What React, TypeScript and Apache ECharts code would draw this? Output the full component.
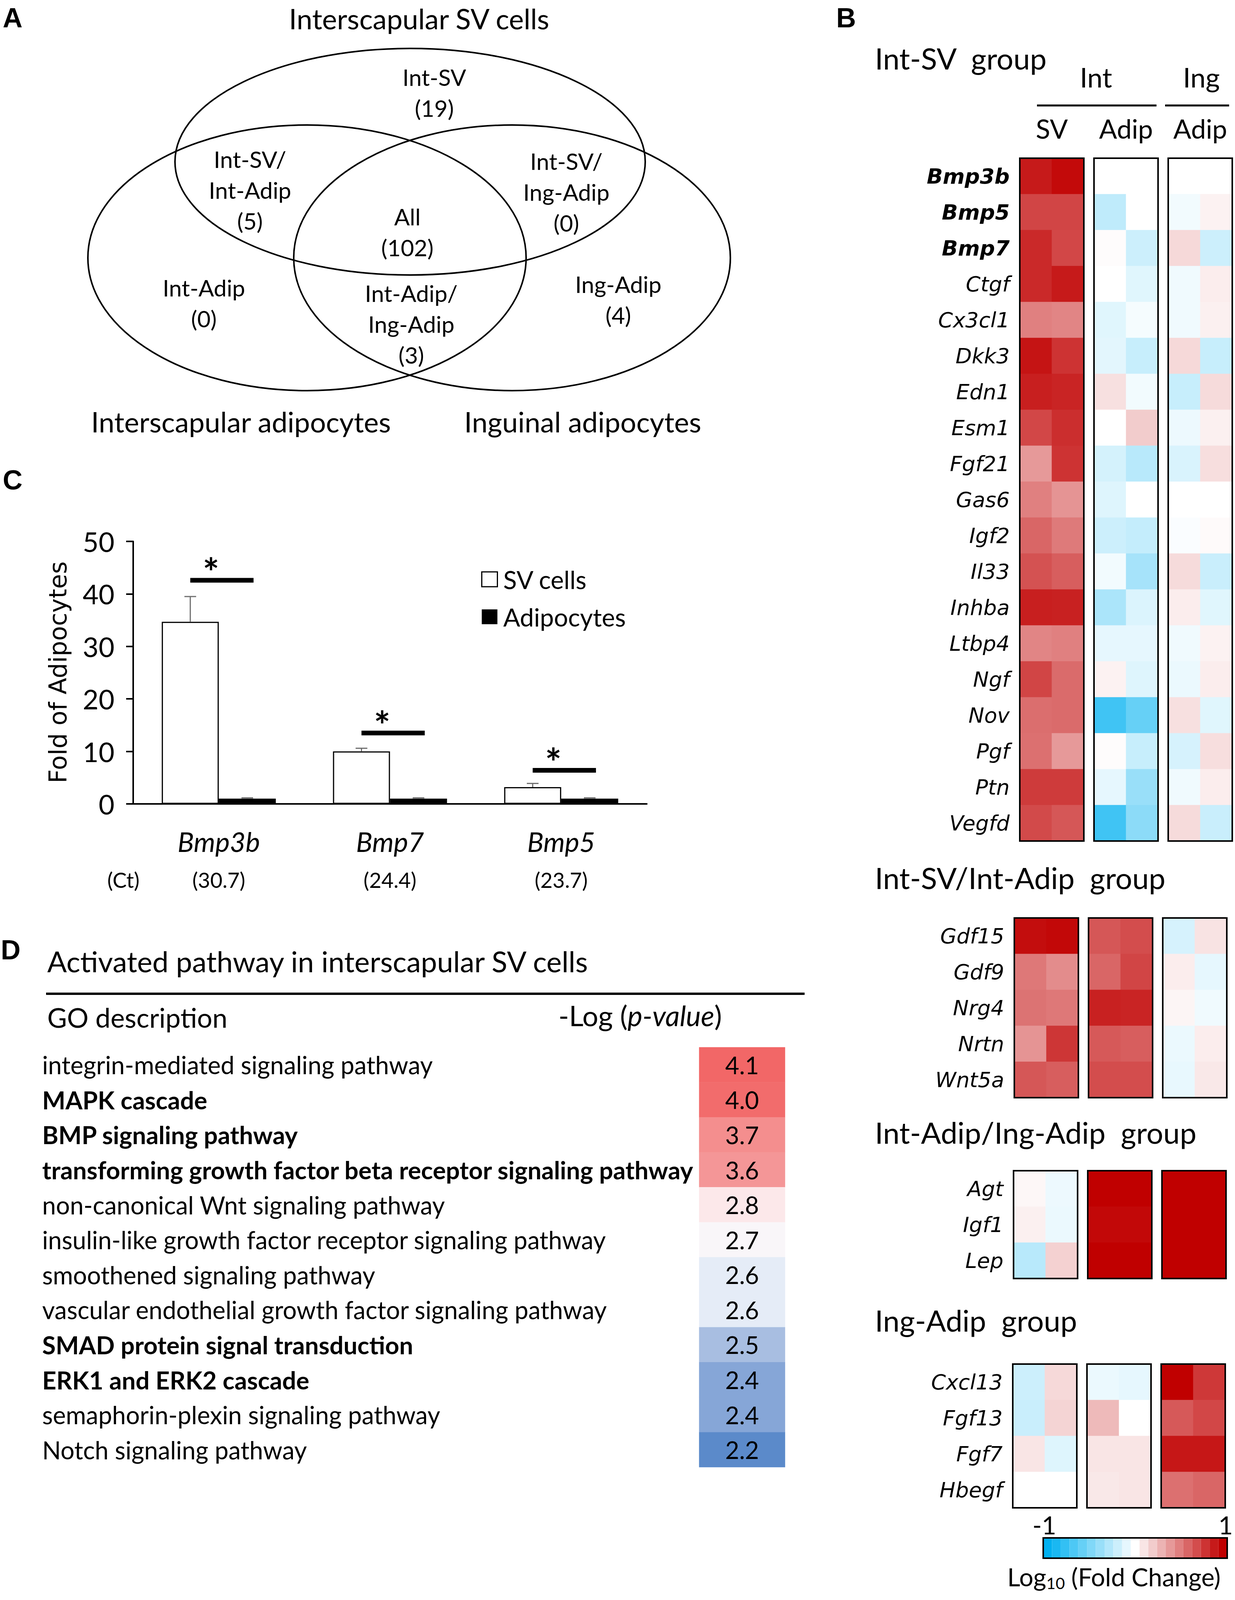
import React, { useEffect, useRef } from 'react';
import * as echarts from 'echarts';

const W = 3162;
const H = 4342;
const SANS = 'Lato, "Open Sans", "DejaVu Sans", sans-serif';
const GENE_FONT = '"DejaVu Sans", Verdana, sans-serif';
const LETTER_FONT = '"Liberation Sans", Arial, sans-serif';
const INK = '#000000';

// ---------------- Panel A: Venn diagram ----------------
const vennSetNames = ['Interscapular SV cells', 'Interscapular adipocytes', 'Inguinal adipocytes'];
const vennRegionNames = ['Int-SV', 'Int-SV/\nInt-Adip', 'All', 'Int-SV/\nIng-Adip', 'Int-Adip', 'Int-Adip/\nIng-Adip', 'Ing-Adip'];
const vennRegionCounts = [19, 5, 102, 0, 0, 3, 4];

// ---------------- Panel C: qPCR bars ----------------
const barGenes = ['Bmp3b', 'Bmp7', 'Bmp5'];
const ctValues = [30.7, 24.4, 23.7];
const seriesNames = ['SV cells', 'Adipocytes'];
const svMean = [34.7, 10.0, 3.2];
const svErr = [4.8, 0.6, 0.7];
const adipMean = [1.0, 1.0, 1.0];
const adipErr = [0.15, 0.15, 0.15];
const sigLevel = [42.6, 13.5, 6.4];

// ---------------- Panel B: heatmaps (log10 fold change) ----------------
// columns: Int-SV rep1, Int-SV rep2, Int-Adip rep1, Int-Adip rep2, Ing-Adip rep1, Ing-Adip rep2
const groupTitles = ['Int-SV  group', 'Int-SV/Int-Adip  group', 'Int-Adip/Ing-Adip  group', 'Ing-Adip  group'];
const boldGenes = ['Bmp3b', 'Bmp5', 'Bmp7'];

const intSvGenes = ['Bmp3b', 'Bmp5', 'Bmp7', 'Ctgf', 'Cx3cl1', 'Dkk3', 'Edn1', 'Esm1', 'Fgf21', 'Gas6', 'Igf2', 'Il33', 'Inhba', 'Ltbp4', 'Ngf', 'Nov', 'Pgf', 'Ptn', 'Vegfd'];
const intSvValues = [
  [0.90, 0.96, 0.00, 0.00, 0.00, 0.00],
  [0.73, 0.73, -0.25, 0.00, -0.05, 0.05],
  [0.84, 0.72, 0.01, -0.20, 0.15, -0.20],
  [0.84, 0.90, 0.00, -0.12, -0.06, 0.07],
  [0.50, 0.48, -0.12, -0.04, -0.06, 0.06],
  [0.92, 0.80, -0.11, -0.22, 0.15, -0.22],
  [0.88, 0.86, 0.12, -0.05, -0.22, 0.14],
  [0.72, 0.82, 0.00, 0.20, -0.07, 0.06],
  [0.40, 0.80, -0.17, -0.28, -0.15, 0.13],
  [0.50, 0.42, -0.13, 0.00, 0.00, 0.00],
  [0.60, 0.52, -0.20, -0.23, -0.02, 0.02],
  [0.68, 0.63, -0.05, -0.35, 0.14, -0.21],
  [0.88, 0.87, -0.33, -0.14, 0.07, -0.12],
  [0.48, 0.50, -0.10, -0.10, -0.06, 0.05],
  [0.73, 0.58, 0.05, -0.13, -0.08, 0.07],
  [0.57, 0.58, -0.75, -0.60, 0.12, -0.12],
  [0.56, 0.40, 0.01, -0.22, -0.16, 0.13],
  [0.77, 0.77, -0.10, -0.40, -0.06, 0.07],
  [0.71, 0.66, -0.75, -0.45, 0.14, -0.21],
];

const svAdipGenes = ['Gdf15', 'Gdf9', 'Nrg4', 'Nrtn', 'Wnt5a'];
const svAdipValues = [
  [0.95, 0.97, 0.66, 0.70, -0.16, 0.11],
  [0.53, 0.45, 0.60, 0.73, 0.07, -0.10],
  [0.55, 0.53, 0.87, 0.86, 0.04, -0.06],
  [0.42, 0.79, 0.65, 0.63, -0.08, 0.07],
  [0.66, 0.63, 0.70, 0.70, -0.09, 0.09],
];

const adipAdipGenes = ['Agt', 'Igf1', 'Lep'];
const adipAdipValues = [
  [0.03, -0.07, 1.00, 1.00, 1.00, 1.00],
  [0.06, -0.08, 0.97, 0.97, 1.00, 1.00],
  [-0.28, 0.18, 1.00, 1.00, 1.00, 1.00],
];

const ingAdipGenes = ['Cxcl13', 'Fgf13', 'Fgf7', 'Hbegf'];
const ingAdipValues = [
  [-0.20, 0.15, -0.08, -0.10, 1.00, 0.78],
  [-0.21, 0.17, 0.27, 0.00, 0.65, 0.72],
  [0.10, -0.13, 0.10, 0.10, 0.91, 0.91],
  [0.00, 0.00, 0.09, 0.10, 0.56, 0.60],
];

const groupGenes = [intSvGenes, svAdipGenes, adipAdipGenes, ingAdipGenes];
const groupValues = [intSvValues, svAdipValues, adipAdipValues, ingAdipValues];
const colorbarMin = -1;
const colorbarMax = 1;

// ---------------- Panel D: GO pathways ----------------
const pathways = [
  'integrin-mediated signaling pathway',
  'MAPK cascade',
  'BMP signaling pathway',
  'transforming growth factor beta receptor signaling pathway',
  'non-canonical Wnt signaling pathway',
  'insulin-like growth factor receptor signaling pathway',
  'smoothened signaling pathway',
  'vascular endothelial growth factor signaling pathway',
  'SMAD protein signal transduction',
  'ERK1 and ERK2 cascade',
  'semaphorin-plexin signaling pathway',
  'Notch signaling pathway',
];
const pathwayLogP = [4.1, 4.0, 3.7, 3.6, 2.8, 2.7, 2.6, 2.6, 2.5, 2.4, 2.4, 2.2];
const boldPathways = ['MAPK cascade', 'BMP signaling pathway', 'transforming growth factor beta receptor signaling pathway', 'SMAD protein signal transduction', 'ERK1 and ERK2 cascade'];

// ---------------- styles / layout ----------------
const heatColors = ['#00B0F0', '#FFFFFF', '#C00000'];
// colour stops for -log(p) from 2.2 to 4.1 (every 0.1)
const pathwayColors = [
  '#5B8ACA', '#7098D0', '#86A6D7', '#A8BEE1', '#E5ECF7', '#F9F6F9', '#FCE8EA', '#FAE0E1', '#F9D5D6', '#F8CBCC',
  '#F7C0C1', '#F6B5B6', '#F5AAAB', '#F5A0A1', '#F49697', '#F48E8E', '#F38282', '#F37777', '#F26C6C', '#F26767',
];

const VENN_ELLIPSES = [
  { cx: 1050, cy: 414, rx: 602, ry: 290 },
  { cx: 786, cy: 660, rx: 561, ry: 340 },
  { cx: 1311, cy: 660, rx: 559, ry: 340 },
];
const VENN_SET_XY = [[1073, 47], [617, 1079], [1492, 1079]];
const VENN_LABEL_XY = [[1112, 237], [640, 486], [1043, 594], [1450, 491], [522, 776], [1053, 829], [1583, 767]];

const C_GRID = { left: 341, top: 1386, width: 1315, height: 672 };
const BAR_W = 146;
const D_GRID = { left: 1790, top: 2681, width: 220, height: 1075 };
// lower groups are packed a little tighter so that the colour bar stays inside the photographed area
const B_LAYOUT = [
  { left: 2611, top: 405, titleY: 148 },
  { left: 2597, top: 2350, titleY: 2246 },
  { left: 2595, top: 2997, titleY: 2898 },
  { left: 2593, top: 3492, titleY: 3379 },
];
const B_BLOCK_W = 164;
const B_BLOCK_STEP = 190;
const B_ROW_H = 92;
const COLORBAR = { left: 2671, top: 3937, width: 471, height: 52, steps: 21, labelY: 3903, titleX: 2852, titleY: 4036 };

function T(text: string, x: number, y: number, size: number, o: any = {}) {
  const align = o.align || 'center';
  const valign = o.valign || 'middle';
  const style: any = {
    text,
    fontSize: size,
    fontFamily: o.family || SANS,
    fontWeight: o.weight || 'normal',
    fontStyle: o.fontStyle || 'normal',
    fill: o.fill || INK,
    align,
    verticalAlign: valign,
    textAlign: align,
    textVerticalAlign: valign,
  };
  if (o.lineHeight) style.lineHeight = o.lineHeight;
  if (o.rich) style.rich = o.rich;
  const el: any = { type: 'text', x, y, z: 50, style };
  if (o.rotation) el.rotation = o.rotation;
  return el;
}

function buildOption() {
  const grids: any[] = [];
  const xAxes: any[] = [];
  const yAxes: any[] = [];
  const series: any[] = [];
  const graphics: any[] = [];

  // ===== Panel letters =====
  graphics.push(T('A', 7, 46, 70, { align: 'left', family: LETTER_FONT, weight: 'bold' }));
  graphics.push(T('B', 2141, 46, 70, { align: 'left', family: LETTER_FONT, weight: 'bold' }));
  graphics.push(T('C', 7, 1229, 70, { align: 'left', family: LETTER_FONT, weight: 'bold' }));
  graphics.push(T('D', 2, 2432, 70, { align: 'left', family: LETTER_FONT, weight: 'bold' }));

  // ===== Panel A =====
  VENN_ELLIPSES.forEach((e) => {
    graphics.push({ type: 'ellipse', z: 20, shape: e, style: { fill: 'none', stroke: INK, lineWidth: 4 } });
  });
  vennSetNames.forEach((n, i) => graphics.push(T(n, VENN_SET_XY[i][0], VENN_SET_XY[i][1], 72)));
  vennRegionNames.forEach((n, i) => {
    graphics.push(T(`${n}\n(${vennRegionCounts[i]})`, VENN_LABEL_XY[i][0], VENN_LABEL_XY[i][1], 59, { lineHeight: 79 }));
  });

  // ===== Panel C =====
  grids.push({ left: C_GRID.left, top: C_GRID.top, width: C_GRID.width, height: C_GRID.height });
  xAxes.push({
    gridIndex: 0,
    type: 'category',
    data: barGenes,
    axisLine: { lineStyle: { color: INK, width: 4 } },
    axisTick: { show: false },
    axisLabel: {
      margin: 54,
      interval: 0,
      formatter: (v: string, i: number) => `{g|${v}}\n{c|(${ctValues[i].toFixed(1)})}`,
      rich: {
        g: { fontSize: 70, fontStyle: 'italic', fontFamily: SANS, color: INK, lineHeight: 84 },
        c: { fontSize: 54, fontFamily: SANS, color: INK, lineHeight: 112 },
      },
    },
  });
  yAxes.push({
    gridIndex: 0,
    type: 'value',
    min: 0,
    max: 50,
    interval: 10,
    axisLine: { show: true, lineStyle: { color: INK, width: 4 } },
    axisTick: { show: true, length: 18, lineStyle: { color: INK, width: 4 } },
    splitLine: { show: false },
    axisLabel: { margin: 48, fontSize: 70, fontFamily: SANS, color: INK },
  });
  series.push({
    type: 'bar', name: seriesNames[0], xAxisIndex: 0, yAxisIndex: 0, data: svMean,
    barWidth: BAR_W, barGap: '0%',
    itemStyle: { color: '#FFFFFF', borderColor: INK, borderWidth: 3 },
    emphasis: { disabled: true },
  });
  series.push({
    type: 'bar', name: seriesNames[1], xAxisIndex: 0, yAxisIndex: 0, data: adipMean,
    barWidth: BAR_W, barGap: '0%',
    itemStyle: { color: INK },
    emphasis: { disabled: true },
  });
  series.push({
    type: 'custom', xAxisIndex: 0, yAxisIndex: 0, z: 3, silent: true,
    data: barGenes.map((g, i) => [i, svMean[i], svErr[i], adipMean[i], adipErr[i]]),
    renderItem: (params: any, api: any) => {
      const i = api.value(0);
      const base = api.coord([i, 0]);
      const pairs = [[api.value(1), api.value(2), -BAR_W / 2], [api.value(3), api.value(4), BAR_W / 2]];
      const children: any[] = [];
      pairs.forEach(([m, e, off]) => {
        const x = base[0] + off;
        const y0 = api.coord([i, m])[1];
        const y1 = api.coord([i, m + e])[1];
        children.push({ type: 'line', shape: { x1: x, y1: y0, x2: x, y2: y1 }, style: { stroke: '#6E6E6E', lineWidth: 3 } });
        children.push({ type: 'line', shape: { x1: x - 15, y1: y1, x2: x + 15, y2: y1 }, style: { stroke: '#6E6E6E', lineWidth: 3 } });
      });
      return { type: 'group', children };
    },
  });
  series.push({
    type: 'custom', xAxisIndex: 0, yAxisIndex: 0, z: 4, silent: true,
    data: sigLevel.map((v, i) => [i, v]),
    renderItem: (params: any, api: any) => {
      const p = api.coord([api.value(0), api.value(1)]);
      return {
        type: 'group',
        children: [
          { type: 'rect', shape: { x: p[0] - BAR_W / 2, y: p[1] - 6, width: BAR_W + 16, height: 12 }, style: { fill: INK } },
          {
            type: 'text',
            style: { text: '*', x: p[0] - 20, y: p[1] - 22, fontSize: 100, fontWeight: 'bold', fontFamily: SANS, fill: INK, align: 'center', verticalAlign: 'middle', textAlign: 'center', textVerticalAlign: 'middle' },
          },
        ],
      };
    },
  });
  graphics.push(T('(Ct)', 316, 2252, 54));
  graphics.push(T('Fold of Adipocytes', 148, 1721, 62, { family: GENE_FONT, rotation: Math.PI / 2 }));

  // ===== Panel D =====
  grids.push({ left: D_GRID.left, top: D_GRID.top, width: D_GRID.width, height: D_GRID.height });
  xAxes.push({ gridIndex: 1, type: 'category', data: ['-Log(p)'], show: false });
  yAxes.push({
    gridIndex: 1,
    type: 'category',
    data: pathways,
    inverse: true,
    axisLine: { show: false },
    axisTick: { show: false },
    axisLabel: {
      interval: 0,
      align: 'left',
      margin: D_GRID.left - 108,
      formatter: (v: string) => (boldPathways.includes(v) ? `{b|${v}}` : `{n|${v}}`),
      rich: {
        b: { fontSize: 63, fontFamily: SANS, fontWeight: 'bold', color: INK },
        n: { fontSize: 63, fontFamily: SANS, color: INK },
      },
    },
  });
  const dSeriesIndex = series.length;
  series.push({
    type: 'heatmap', xAxisIndex: 1, yAxisIndex: 1,
    data: pathways.map((p, i) => [0, i, pathwayLogP[i]]),
    label: { show: true, formatter: (p: any) => p.value[2].toFixed(1), fontSize: 62, fontFamily: SANS, color: INK },
    itemStyle: { borderWidth: 0 },
    emphasis: { disabled: true },
  });
  graphics.push(T('Activated pathway in interscapular SV cells', 121, 2460, 74, { align: 'left' }));
  graphics.push({ type: 'line', z: 50, shape: { x1: 118, y1: 2544, x2: 2060, y2: 2544 }, style: { stroke: INK, lineWidth: 6 } });
  graphics.push(T('GO description', 121, 2604, 69, { align: 'left' }));
  graphics.push(T('-Log ({i|p-value})', 1430, 2599, 72, {
    align: 'left',
    rich: { i: { fontSize: 72, fontFamily: SANS, fontStyle: 'italic', fill: INK } },
  }));

  // ===== Panel B =====
  const bSeriesIdx: number[] = [];
  B_LAYOUT.forEach((L, gi) => {
    const genes = groupGenes[gi];
    const vals = groupValues[gi];
    graphics.push(T(groupTitles[gi], 2240, L.titleY, 76, { align: 'left' }));
    for (let b = 0; b < 3; b++) {
      const gridIndex = grids.length;
      grids.push({
        left: L.left + b * B_BLOCK_STEP, top: L.top, width: B_BLOCK_W, height: B_ROW_H * genes.length,
        show: true, borderColor: INK, borderWidth: 4, backgroundColor: 'transparent', z: 10,
      });
      xAxes.push({ gridIndex, type: 'category', data: ['rep1', 'rep2'], show: false });
      yAxes.push({
        gridIndex,
        type: 'category',
        data: genes,
        inverse: true,
        axisLine: { show: false },
        axisTick: { show: false },
        axisLabel: {
          show: b === 0,
          interval: 0,
          margin: 26,
          fontSize: 54,
          fontStyle: 'italic',
          fontFamily: GENE_FONT,
          color: INK,
          formatter: (v: string) => (boldGenes.includes(v) ? `{b|${v}}` : `{n|${v}}`),
          rich: {
            b: { fontSize: 54, fontStyle: 'italic', fontWeight: 'bold', fontFamily: GENE_FONT, color: INK },
            n: { fontSize: 54, fontStyle: 'italic', fontFamily: GENE_FONT, color: INK },
          },
        },
      });
      bSeriesIdx.push(series.length);
      const data: any[] = [];
      genes.forEach((g, r) => {
        for (let c = 0; c < 2; c++) data.push([c, r, vals[r][b * 2 + c]]);
      });
      series.push({
        type: 'heatmap', xAxisIndex: xAxes.length - 1, yAxisIndex: yAxes.length - 1,
        data, itemStyle: { borderWidth: 0 }, emphasis: { disabled: true },
      });
    }
  });
  // column headers of group 1
  const L0 = B_LAYOUT[0];
  const blockCenter = (b: number) => L0.left + b * B_BLOCK_STEP + B_BLOCK_W / 2;
  graphics.push(T('Int', 2806, 197, 70));
  graphics.push(T('Ing', 3076, 197, 70));
  graphics.push({ type: 'line', z: 50, shape: { x1: 2655, y1: 270, x2: 2961, y2: 270 }, style: { stroke: INK, lineWidth: 5 } });
  graphics.push({ type: 'line', z: 50, shape: { x1: 2983, y1: 270, x2: 3147, y2: 270 }, style: { stroke: INK, lineWidth: 5 } });
  graphics.push(T('SV', blockCenter(0), 328, 68));
  graphics.push(T('Adip', blockCenter(1), 328, 68));
  graphics.push(T('Adip', blockCenter(2), 328, 68));
  // colour bar labels
  graphics.push(T(String(colorbarMin), COLORBAR.left + 3, COLORBAR.labelY, 64));
  graphics.push(T(String(colorbarMax), COLORBAR.left + COLORBAR.width - 4, COLORBAR.labelY, 64));
  graphics.push({
    type: 'rect', z: 60,
    shape: { x: COLORBAR.left, y: COLORBAR.top, width: COLORBAR.width, height: COLORBAR.height },
    style: { fill: 'none', stroke: INK, lineWidth: 4 },
  });
  graphics.push(T('Log{sub|10} (Fold Change)', COLORBAR.titleX, COLORBAR.titleY, 64, {
    rich: { sub: { fontSize: 41, fontFamily: SANS, fill: INK, padding: [32, 0, 0, 0] } },
  }));

  return {
    animation: false,
    backgroundColor: '#FFFFFF',
    grid: grids,
    xAxis: xAxes,
    yAxis: yAxes,
    series,
    legend: {
      data: [
        { name: seriesNames[0], itemStyle: { color: '#FFFFFF', borderColor: INK, borderWidth: 3 } },
        { name: seriesNames[1], itemStyle: { color: INK } },
      ],
      orient: 'vertical',
      left: 1232,
      top: 1451,
      padding: 0,
      icon: 'rect',
      itemWidth: 40,
      itemHeight: 38,
      itemGap: 32,
      selectedMode: false,
      textStyle: { fontSize: 64, fontFamily: SANS, color: INK, padding: [0, 0, 0, 10] },
    },
    visualMap: [
      {
        type: 'continuous', show: false, seriesIndex: bSeriesIdx,
        min: colorbarMin, max: colorbarMax, inRange: { color: heatColors },
      },
      {
        type: 'piecewise', show: true, seriesIndex: [],
        min: colorbarMin, max: colorbarMax, splitNumber: COLORBAR.steps,
        orient: 'horizontal', left: COLORBAR.left, top: COLORBAR.top, padding: 0,
        itemWidth: COLORBAR.width / COLORBAR.steps, itemHeight: COLORBAR.height, itemGap: 0,
        itemSymbol: 'rect', showLabel: false, inRange: { color: heatColors },
      },
      {
        type: 'continuous', show: false, seriesIndex: [dSeriesIndex],
        min: 2.2, max: 4.1, inRange: { color: pathwayColors },
      },
    ],
    graphic: { elements: graphics },
  };
}

export default function App() {
  const ref = useRef<HTMLDivElement>(null);
  useEffect(() => {
    const chart = echarts.init(ref.current as HTMLDivElement, null, { renderer: 'svg', width: W, height: H });
    chart.setOption(buildOption() as any);
    return () => chart.dispose();
  }, []);
  return <div ref={ref} style={{ position: 'absolute', left: 0, top: 0, width: W, height: H, background: '#FFFFFF' }} />;
}
